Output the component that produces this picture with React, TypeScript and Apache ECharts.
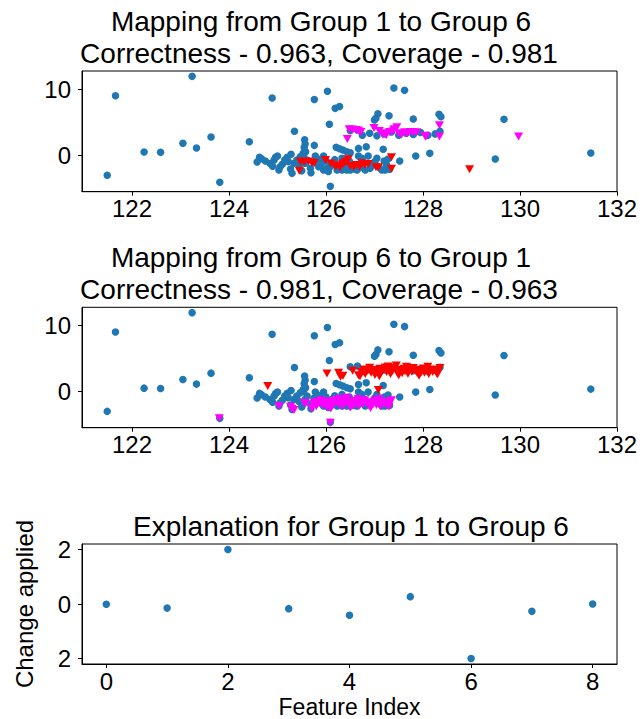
import React, { useEffect, useRef } from "react";
import * as echarts from "echarts";

// All samples, projected onto two coordinates
const allPoints: number[][] = [
  [121.49, -3.08], [121.66, 8.99], [122.25, 0.45], [122.59, 0.4], [123.05, 1.77],
  [123.24, 11.92], [123.33, 1.06], [123.63, 2.73], [123.81, -4.14], [124.42, 2.02],
  [124.89, 8.64], [125.35, 3.59], [125.56, 2.3], [125.57, 1.67], [125.55, 1.12],
  [125.76, 8.4], [125.76, 1.46], [126.03, 9.65], [126.07, 4.65], [126.19, 7.07],
  [126.28, 7.35], [126.09, -4.75], [127.4, 10.15], [127.62, 9.8], [127.07, 6.26],
  [127.03, 5.56], [127.0, 5.3], [127.3, 5.96], [127.8, 5.45], [128.33, 6.16],
  [128.37, 5.8], [129.67, 5.4], [128.14, 0.25], [127.85, -0.15], [127.52, -0.9],
  [127.18, 0.86], [126.83, 1.26], [126.67, 1.0], [129.49, -0.6], [131.46, 0.3],
  [126.21, 1.16], [126.28, 0.96], [126.35, 0.76], [126.43, 0.5], [126.5, 0.35],
  [125.28, 0.1],
  // dense lower cluster
  [124.63, -0.35], [124.58, -1.06], [124.67, -0.56], [124.93, -0.76], [124.96, -0.35],
  [125.0, -0.15], [125.03, -2.27], [125.15, -0.76], [125.2, -0.35], [125.27, -2.12],
  [125.3, -2.78], [125.34, -1.26], [125.4, -0.76], [125.47, -0.25], [125.53, 0.25],
  [125.61, -0.76], [125.68, -2.0], [125.69, -2.7], [125.78, -0.15], [125.85, -1.77],
  [125.95, -0.15], [126.02, -2.0], [126.05, -2.5], [126.12, -1.26], [126.23, -2.27],
  [126.33, -0.5], [126.43, -2.27], [126.53, -2.0], [126.64, -2.27], [125.54, 0.0],
  [125.57, -1.26], [125.92, -0.5], [125.95, -2.27], [126.12, -1.5], [126.33, -2.27],
  [126.43, -1.77], [126.5, -2.27], [126.6, -2.17], [126.67, -0.15], [126.74, -0.5],
  [126.81, -2.27], [126.87, -0.15], [126.91, -2.0], [127.01, -1.0], [127.05, -0.5],
  [127.15, -2.27], [127.22, -2.27], [127.25, -1.5], [127.31, -2.17], [124.75, -0.9],
  [124.85, -1.3], [125.1, -1.4], [125.22, -1.0], [125.45, -1.6], [125.5, -2.4],
  [125.75, -1.1], [125.82, -0.6], [125.9, -1.4], [126.0, -0.9], [126.08, -1.8],
  [126.18, -0.7], [126.25, -1.9], [126.38, -1.2], [126.48, -0.9], [126.56, -1.5],
  [126.7, -1.9], [126.78, -1.2], [126.95, -1.6], [127.1, -1.9], [127.2, -0.9],
  [127.28, -0.6], [125.58, 0.5], [125.05, -1.8], [124.9, -1.7],
  // upper band
  [126.75, 3.0], [126.9, 3.3], [127.05, 2.9], [127.2, 3.2], [127.35, 3.5],
  [127.5, 3.0], [127.65, 3.3], [127.8, 3.1], [127.95, 3.4], [128.1, 3.0],
  [128.25, 3.2], [128.35, 3.6], [126.5, 3.7], [126.65, 3.8],
];

// Mapping from Group 1 to Group 6: source points and their mapped positions
const group1Points: number[][] = [
  [125.45, -2.4], [125.47, -1.0], [125.55, -1.05], [125.64, -1.0], [125.71, -1.15],
  [125.76, -1.22], [125.99, -0.75], [126.19, -1.75], [126.22, -1.6], [126.29, -1.85],
  [126.34, -1.4], [126.37, -1.25], [126.42, -1.0], [126.46, -0.65], [126.5, -1.65],
  [126.57, -1.77], [126.62, -1.5], [126.69, -1.77], [126.74, -1.26], [126.8, -1.5],
  [126.87, -1.36], [127.03, -1.87], [127.08, -1.87], [127.35, -0.35], [127.35, -2.1],
  [128.96, -2.17], [126.1, -1.3],
];
const group1Mapped: number[][] = [
  [126.44, 2.42], [126.48, 3.89], [126.55, 3.85], [126.62, 3.8], [126.67, 3.7],
  [126.72, 3.5], [126.99, 4.09], [127.17, 3.1], [127.21, 3.3], [127.24, 3.0],
  [127.31, 3.5], [127.38, 3.6], [127.4, 3.9], [127.46, 4.2], [127.5, 3.3],
  [127.56, 3.1], [127.62, 3.45], [127.68, 3.25], [127.73, 3.5], [127.8, 3.45],
  [127.87, 3.45], [128.04, 2.9], [128.06, 2.75], [128.34, 4.5], [128.34, 2.8],
  [129.97, 2.8], [127.1, 3.65],
];

// Mapping from Group 6 to Group 1: source points and their mapped positions
const group6Points: number[][] = [
  [124.8, 0.76], [126.02, 2.68], [126.26, 2.78], [126.35, 2.32], [126.3, 2.17],
  [126.55, 3.08], [126.67, 2.42], [126.7, 2.27], [127.08, 0.15],
  [126.73, 2.9], [126.77, 3.3], [126.81, 2.6], [126.86, 3.1], [126.9, 3.55],
  [126.93, 2.8], [126.98, 3.2], [127.01, 2.45], [127.06, 3.0], [127.11, 3.4],
  [127.13, 2.7], [127.17, 3.15], [127.22, 3.6], [127.25, 2.9], [127.3, 3.3],
  [127.33, 2.6], [127.37, 3.05], [127.41, 3.55], [127.45, 3.9], [127.47, 2.8],
  [127.53, 3.25], [127.57, 2.7], [127.61, 3.4], [127.63, 3.0], [127.69, 2.65],
  [127.71, 3.3], [127.77, 2.95], [127.8, 3.5], [127.85, 3.1], [127.88, 2.75],
  [127.93, 3.2], [127.97, 2.9], [128.01, 3.45], [128.03, 2.8], [128.09, 3.1],
  [128.12, 2.6], [128.17, 3.3], [128.2, 2.9], [128.23, 3.2], [128.28, 2.7],
  [128.31, 3.1], [128.35, 3.5], [127.1, 2.25], [127.5, 2.4], [127.92, 2.35],
  [128.3, 2.55], [127.28, 3.75], [127.66, 3.7], [128.1, 3.7],
];
const group6Mapped: number[][] = [
  [123.8, -4.14], [125.03, -2.27], [125.27, -2.37], [125.34, -2.88], [125.3, -2.7],
  [125.58, -1.87], [125.55, -1.77], [125.71, -2.63], [126.09, -4.8],
  [125.74, -2.0], [125.78, -1.6], [125.8, -2.3], [125.86, -1.8], [125.9, -1.4],
  [125.93, -2.1], [125.98, -1.7], [126.02, -2.45], [126.06, -1.9], [126.1, -1.5],
  [126.14, -2.2], [126.17, -1.75], [126.22, -1.3], [126.26, -2.0], [126.3, -1.6],
  [126.34, -2.3], [126.38, -1.85], [126.41, -1.35], [126.44, -1.0], [126.48, -2.1],
  [126.53, -1.65], [126.57, -2.2], [126.6, -1.5], [126.64, -1.9], [126.68, -2.25],
  [126.72, -1.6], [126.77, -1.95], [126.8, -1.4], [126.85, -1.8], [126.88, -2.15],
  [126.93, -1.7], [126.97, -2.0], [127.0, -1.45], [127.04, -2.1], [127.09, -1.8],
  [127.12, -2.3], [127.17, -1.6], [127.2, -2.0], [127.24, -1.7], [127.28, -2.2],
  [127.31, -1.8], [127.35, -1.4], [126.1, -2.65], [126.5, -2.5], [126.92, -2.55],
  [127.3, -2.35], [126.28, -1.15], [126.66, -1.2], [127.1, -1.2],
];

// Explanation: change applied per feature
const featureIndex = [0, 1, 2, 3, 4, 5, 6, 7, 8];
const changeApplied = [-0.01, -0.15, 2.0, -0.17, -0.41, 0.27, -2.0, -0.27, 0.0];

const scatterXTicks = [122, 124, 126, 128, 130, 132];
const scatterYTicks = [0, 10];
const featureTicks = [0, 2, 4, 6, 8];
const changeTicks = [-2, 0, 2];

const FONT = "'Liberation Sans', Arial, Helvetica, sans-serif";
const TICK_FONT = "'Liberation Sans Narrow', 'Liberation Sans', Arial, sans-serif";
const BLUE = "#1f77b4";
const RED = "#ff0000";
const MAGENTA = "#ff00ff";

const GRID_LEFT = 82;
const GRID_WIDTH = 535;

function axisCommon(ticks: number[], margin: number, fmt?: (v: number) => string) {
  return {
    type: "value",
    splitLine: { show: false },
    axisLine: { show: true, onZero: false, lineStyle: { color: "#000", width: 1 } },
    axisTick: { show: true, inside: false, length: 4, customValues: ticks, lineStyle: { color: "#000", width: 1 } },
    axisLabel: {
      show: true,
      customValues: ticks,
      margin,
      color: "#000",
      fontSize: 24,
      fontFamily: TICK_FONT,
      formatter: fmt || ((v: number) => String(v)),
    },
  } as any;
}

export default function App() {
  const ref = useRef<HTMLDivElement>(null);

  useEffect(() => {
    if (!ref.current) return;
    const chart = echarts.init(ref.current, undefined, { renderer: "svg" });

    const grids = [
      { left: GRID_LEFT, top: 71, width: GRID_WIDTH, height: 120.7 },
      { left: GRID_LEFT, top: 307.3, width: GRID_WIDTH, height: 120.4 },
      { left: GRID_LEFT, top: 544, width: GRID_WIDTH, height: 120 },
    ].map((g) => ({ ...g, show: true, borderColor: "#000", borderWidth: 1, backgroundColor: "transparent" }));

    // the minus glyph is not drawn on this axis's labels
    const noMinus = (v: number) => String(Math.abs(v));

    const xAxis = [
      { ...axisCommon(scatterXTicks, 5), gridIndex: 0, min: 120.97, max: 132.0 },
      { ...axisCommon(scatterXTicks, 5), gridIndex: 1, min: 120.97, max: 132.0 },
      {
        ...axisCommon(featureTicks, 5),
        gridIndex: 2,
        min: -0.4,
        max: 8.4,
        name: "Feature Index",
        nameLocation: "middle",
        nameGap: 31,
        nameTextStyle: { fontSize: 23, fontFamily: FONT, color: "#000" },
      },
    ];
    const yAxis = [
      { ...axisCommon(scatterYTicks, 11), gridIndex: 0, min: -5.56, max: 12.73 },
      { ...axisCommon(scatterYTicks, 11), gridIndex: 1, min: -5.56, max: 12.73 },
      {
        ...axisCommon(changeTicks, 11, noMinus),
        gridIndex: 2,
        min: -2.2,
        max: 2.2,
        name: "Change applied",
        nameLocation: "middle",
        nameGap: 46,
        nameTextStyle: { fontSize: 24, fontFamily: FONT, color: "#000" },
      },
    ];

    const circle = (data: number[][], idx: number) => ({
      type: "scatter",
      xAxisIndex: idx,
      yAxisIndex: idx,
      data,
      symbol: "circle",
      symbolSize: 7.5,
      itemStyle: { color: BLUE, opacity: 1 },
      silent: true,
    });
    const tri = (data: number[][], idx: number, color: string) => ({
      type: "scatter",
      xAxisIndex: idx,
      yAxisIndex: idx,
      data,
      symbol: "triangle",
      symbolRotate: 180,
      symbolSize: [9, 8],
      itemStyle: { color, opacity: 1 },
      silent: true,
    });

    const titleText = (text: string, x: number, y: number) => ({
      type: "text",
      x,
      y,
      silent: true,
      style: {
        text,
        fill: "#000",
        fontSize: 28,
        fontFamily: FONT,
        align: "center",
        verticalAlign: "middle",
      },
    });

    chart.setOption({
      animation: false,
      backgroundColor: "#fff",
      grid: grids,
      xAxis,
      yAxis,
      graphic: [
        titleText("Mapping from Group 1 to Group 6", 321, 21),
        titleText("Correctness - 0.963, Coverage - 0.981", 319, 53),
        titleText("Mapping from Group 6 to Group 1", 321, 257),
        titleText("Correctness - 0.981, Coverage - 0.963", 319, 289),
        titleText("Explanation for Group 1 to Group 6", 351, 526),
      ],
      series: [
        circle(allPoints, 0),
        tri(group1Points, 0, RED),
        tri(group1Mapped, 0, MAGENTA),
        circle(allPoints, 1),
        tri(group6Points, 1, RED),
        tri(group6Mapped, 1, MAGENTA),
        circle(featureIndex.map((f, i) => [f, changeApplied[i]]), 2),
      ],
    });

    return () => chart.dispose();
  }, []);

  return (
    <div
      ref={ref}
      style={{ position: "absolute", left: 0, top: 0, width: 642, height: 719 }}
    />
  );
}
